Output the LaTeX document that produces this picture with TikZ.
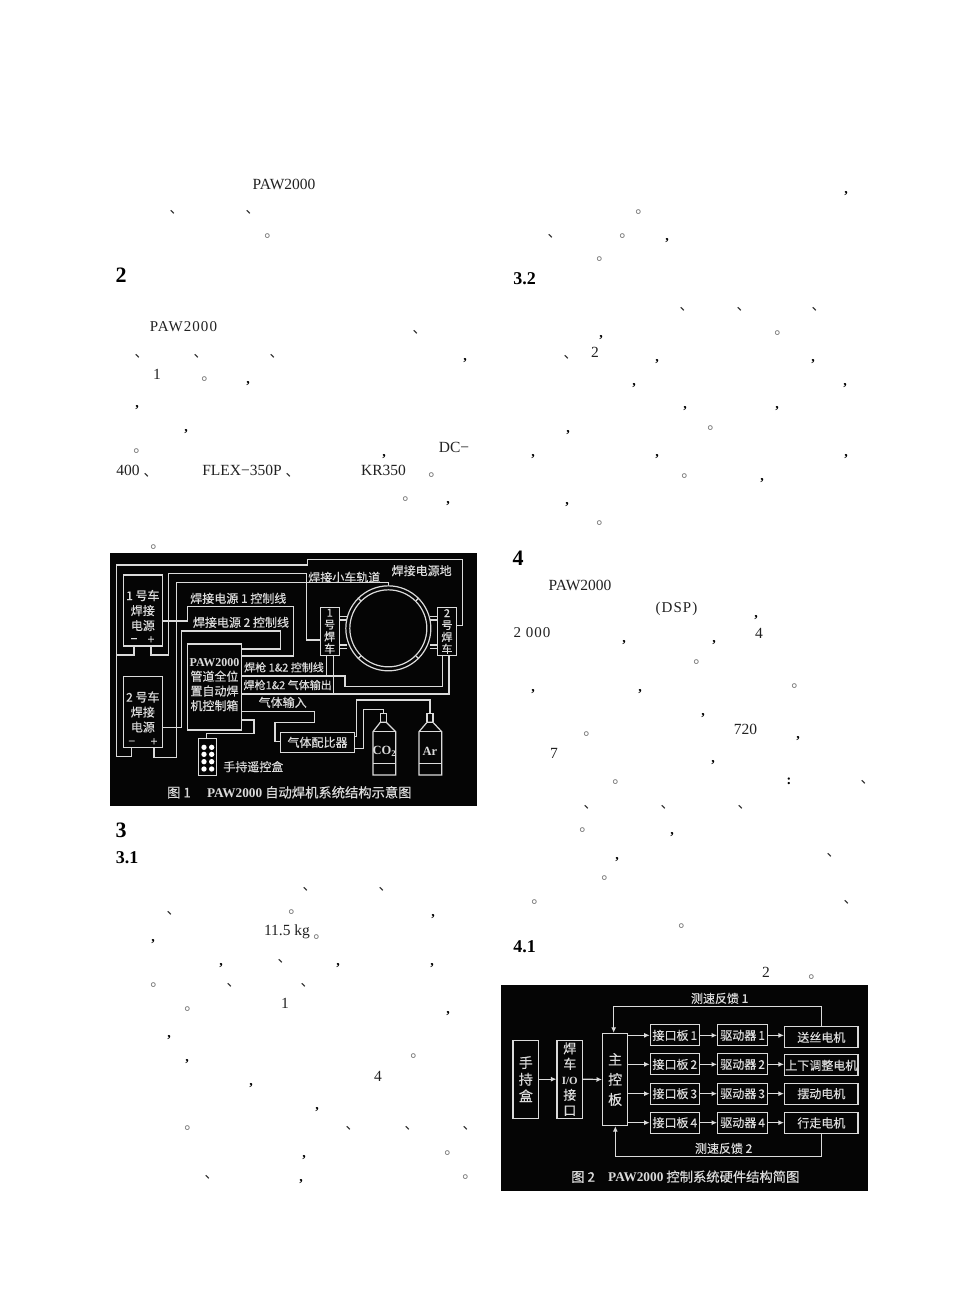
\documentclass[tikz,border=0pt]{standalone}
\usepackage{fontspec}
\setmainfont{Liberation Serif}
\newfontfamily\cjk{Noto Sans CJK SC}
\newfontfamily\cjkfig[FakeBold=0.4]{Noto Sans CJK SC}
\usetikzlibrary{arrows.meta}
\definecolor{inkwhite}{gray}{0.86}
\definecolor{plate}{gray}{0.02}
\definecolor{print}{gray}{0.13}
\tikzset{
  body/.style={inner sep=0pt,text=print,font=\fontsize{15.5}{17}\selectfont},
  spaced/.style={body,font=\fontsize{15}{17}\selectfont\addfontfeatures{LetterSpace=7}},
  sect/.style={inner sep=0pt,text=black,font=\fontsize{22}{24}\selectfont\bfseries},
  subsect/.style={inner sep=0pt,text=black,font=\fontsize{18}{20}\selectfont\bfseries},
  dun/.style={inner sep=0pt,xshift=4.6pt,text=print,font=\cjk\fontsize{14}{14}\selectfont},
  stopp/.style={inner sep=0pt,xshift=5pt,text=black!55,font=\cjk\fontsize{15.5}{15.5}\selectfont},
  comma/.style={inner sep=0pt,yshift=-4.5pt,text=black,font=\fontsize{14}{14}\selectfont\bfseries},
  wire/.style={draw=inkwhite,line width=1.2pt},
  flow/.style={draw=inkwhite,line width=1.2pt,-{Latex[length=5.5pt,width=5pt]}},
  unit/.style={draw=inkwhite,line width=1.3pt,inner sep=0pt,align=center,text=inkwhite,font=\cjkfig\fontsize{12}{15}\selectfont},
  tag/.style={inner sep=0pt,text=inkwhite,font=\cjkfig\fontsize{12}{14}\selectfont},
  caption/.style={inner sep=0pt,text=inkwhite,font=\cjkfig\fontsize{13.3}{15}\selectfont},
}
\begin{document}
\begin{tikzpicture}[x=1pt,y=-1pt]
\useasboundingbox (0,0) rectangle (967,1290);

% text of the page
\node[body] (pawa) at (284,184) {PAW2000};
\node[spaced] (pawb) at (183.5,327) {PAW2000};
\node[body] (numa) at (157,374) {1};
\node[body] (dc) at (454,447) {DC−};
\node[body] (fourh) at (128,470) {400};
\node[body] (flex) at (242,470) {FLEX−350P};
\node[body] (kr) at (383.5,470) {KR350};
\node[body] (kg) at (287,932) {11.5 kg};
\node[body] (numb) at (285,1003) {1};
\node[body] (numc) at (378,1076) {4};
\node[body] (numd) at (595,352) {2};
\node[body] (pawc) at (580,585) {PAW2000};
\node[spaced] (dsp) at (676.5,609) {(DSP)};
\node[spaced] (twok) at (532,633) {2 000};
\node[body] (nume) at (759,633) {4};
\node[body] (sevenh) at (745.5,729) {720};
\node[body] (numf) at (554,753) {7};
\node[body] (numg) at (766,972) {2};
\node[comma,yshift=4.5pt] (colon) at (789,781) {:};

\node[sect] (secb) at (121,275) {2};
\node[sect] (secc) at (121,830) {3};
\node[sect] (secd) at (518,558) {4};
\node[subsect] (subca) at (127,858) {3.1};
\node[subsect] (subcb) at (524.5,279) {3.2};
\node[subsect] (subda) at (524.5,947) {4.1};

\foreach \x/\y [count=\i] in {172/212,248/212,415/332,137/356,196/356,272/356,146/475,288/475,
    305/889,381/889,169/913,280/961,229/985,303/985,348/1128,407/1128,465/1128,207/1177,
    550/236,682/309,739/309,814/309,566/357,863/782,586/807,663/807,740/807,829/855,846/902}
  \node[dun] (dun\i) at (\x,\y) {、};
\foreach \x/\y [count=\i] in {267/236,204/379,136/451,431/475,405/499,153/547,
    291/912,316/937,153/985,187/1009,413/1056,187/1128,447/1153,465/1177,
    638/212,622/236,599/259,777/333,710/428,684/476,599/523,
    696/662,794/686,586/734,615/782,582/830,604/878,534/902,681/926,811/977}
  \node[stopp] (stop\i) at (\x,\y) {。};
\foreach \x/\y [count=\i] in {465/356,248/379,137/403,186/427,384/452,448/499,
    433/912,153/937,221/961,338/961,432/961,448/1009,169/1033,187/1057,251/1081,317/1105,304/1153,301/1177,
    846/189,667/236,601/333,657/357,813/357,634/381,845/381,685/404,777/404,568/428,533/452,657/452,846/452,762/476,567/500,
    756/613,624/638,714/638,533/687,640/687,703/711,798/734,713/758,672/830,617/855}
  \node[comma] (com\i) at (\x,\y) {,};

% first figure
\fill[plate] (110,553) rectangle (477,806);
\begin{scope}[shift={(105,550)},x=0.33333pt,y=-0.33333pt]
  \node[unit,minimum width=39pt,minimum height=71pt] (pwrone) at (113.5,181.5) {1 号车\\焊接\\电源};
  \node[unit,minimum width=39pt,minimum height=71pt] (pwrtwo) at (113.5,486) {2 号车\\焊接\\电源};
  \node[unit,minimum width=54pt,minimum height=86pt] (ctrl) at (328.5,411) {};
  \node[tag,align=center,font=\cjkfig\fontsize{12}{14.7}\selectfont] (ctrltext) at (328.5,404) {\rmfamily\bfseries PAW2000\\管道全位\\置自动焊\\机控制箱};
  \node[unit,minimum width=18pt,minimum height=37pt] (remote) at (308.5,622) {};
  \node[unit,minimum width=74pt,minimum height=20pt] (mixer) at (637.5,577) {气体配比器};
  \node[unit,minimum width=19pt,minimum height=48pt,font=\cjkfig\fontsize{11}{12}\selectfont] (cartone) at (674,243.5) {1\\号\\焊\\车};
  \node[unit,minimum width=19pt,minimum height=48pt,font=\cjkfig\fontsize{11}{12}\selectfont] (carttwo) at (1026,244.5) {2\\号\\焊\\车};
  \node[circle,draw=inkwhite,line width=1.2pt,minimum size=85pt,inner sep=0pt] (ringout) at (850,235) {};
  \node[circle,draw=inkwhite,line width=1.2pt,minimum size=77pt,inner sep=0pt] (ringin) at (850,235) {};
  \foreach \a in {45,135,225,315}
    \draw[wire] (ringin.\a) -- (ringout.\a);
  \foreach \y in {200,210,285,295}{
    \draw[wire] (cartone.east |- 0,\y) -- (725,\y);
    \draw[wire] (carttwo.west |- 0,\y) -- (975,\y);
  }

  \node[tag] (minusa) at (87,272) {−};
  \node[tag] (plusa) at (138,270) {+};
  \node[tag] (minusb) at (80,579) {−};
  \node[tag] (plusb) at (147,576) {+};
  \coordinate (oneminus) at (87,288);
  \coordinate (oneplus) at (138,288);
  \coordinate (twominus) at (80,592);
  \coordinate (twoplus) at (147,592);

  \foreach \y in {592,613,635,657}{
    \fill[white] (297,\y) circle [radius=8];
    \fill[white] (320,\y) circle [radius=8];
  }

  % wires
  \draw[wire] (carttwo.east |- 0,227) -- (1073,227) -- (1073,28) -- (608,28) -- (608,45) -- (35,45) -- (35,620) -- (80,620) -- (twominus);
  \draw[wire] (35,315) -| (oneminus);
  \draw[wire] (oneplus) |- (190,315) -- (190,70) -- (605,70) -- (605,270) -- (cartone.west |- 0,270);
  \draw[wire] (twoplus) |- (215,622) -- (215,98) -| (ringout.north);
  \draw[wire] (pwrone.east |- 0,213) -- (247,213) -- (247,170) -- (565,170) -- (565,318) -- (ctrl.east |- 0,318);
  \draw[wire] (pwrtwo.east |- 0,533) -- (230,533) -- (230,243) -- (527,243) -- (527,297) -- (ctrl.east |- 0,297);
  \draw[wire] (ctrl.east |- 0,378) -- (720,378) -- (720,410) -- (1012,410) -- (carttwo.south -| 1012,0);
  \draw[wire] (cartone.south -| 665,0) -- (665,378);
  \draw[wire] (cartone.south -| 685,0) -- (685,432);
  \draw[wire] (ctrl.east |- 0,432) -- (1032,432) -- (carttwo.south -| 1032,0);
  \draw[wire] (ctrl.east |- 0,484) -- (628,484) -- (628,518) -- (510,518) -- (510,575) -- (mixer.west |- 0,575);
  \draw[wire] (ctrl.east |- 0,510) -- (447,510) -- (447,550) -- (305,550) -- (remote.north -| 305,0);
  \draw[wire] (mixer.east |- 0,595) -- (775,595) -- (775,478) -- (835,478) -- (835,490);
  \draw[wire] (mixer.east |- 0,560) -- (755,560) -- (755,450) -- (975,450) -- (975,490);

  % bottles
  \draw[wire] (826,517) -- (826,490) -- (844,490) -- (844,517);
  \draw[wire] (826,517) -- (804,545) -- (804,675) -- (872,675) -- (872,545) -- (844,517) -- cycle;
  \draw[wire] (804,545) -- (872,545) (804,640) -- (872,640);
  \draw[wire] (966,517) -- (966,490) -- (984,490) -- (984,517);
  \draw[wire] (966,517) -- (942,545) -- (942,675) -- (1010,675) -- (1010,545) -- (984,517) -- cycle;
  \draw[wire] (942,545) -- (1010,545) (942,640) -- (1010,640);
  \node[tag,font=\fontsize{12.5}{14}\selectfont\bfseries] (cotwo) at (838,605) {CO\textsubscript{2}};
  \node[tag,font=\fontsize{12.5}{14}\selectfont\bfseries] (argon) at (975,605) {Ar};

  % labels
  \node[tag] (lbground) at (950,62) {焊接电源地};
  \node[tag] (lbtrack) at (718,82) {焊接小车轨道};
  \node[tag] (lbctrla) at (400,145) {焊接电源 1 控制线};
  \node[tag] (lbctrlb) at (408,217) {焊接电源 2 控制线};
  \node[tag,font=\cjkfig\fontsize{11}{13}\selectfont] (lbgun) at (537,352) {焊枪 1\&2 控制线};
  \node[tag,font=\cjkfig\fontsize{11}{13}\selectfont] (lbgas) at (548,405) {焊枪1\&2 气体输出};
  \node[tag] (lbgasin) at (533,457) {气体输入};
  \node[tag] (lbremote) at (445,650) {手持遥控盒};
  \node[caption] (capone) at (553,727) {图 1\quad\ {\rmfamily\bfseries PAW2000} 自动焊机系统结构示意图};
\end{scope}

% second figure
\fill[plate] (501,985) rectangle (868,1191);
\begin{scope}[shift={(497,980)},x=0.33333pt,y=-0.33333pt]
  \node[unit,minimum width=25.5pt,minimum height=78pt,font=\cjkfig\fontsize{14}{16.7}\selectfont] (hand) at (86.5,297.5) {手\\持\\盒};
  \node[unit,minimum width=25.5pt,minimum height=78pt,font=\cjkfig\fontsize{13}{15.5}\selectfont] (cartio) at (218.5,297.5) {焊\\车\\{\rmfamily\bfseries\fontsize{11}{15.5}\selectfont I/O}\\接\\口};
  \node[unit,minimum width=25pt,minimum height=92pt,font=\cjkfig\fontsize{14}{20}\selectfont] (mainb) at (354.5,298.5) {主\\控\\板};
  \foreach \i/\y/\ym/\mot in {1/166/172/送丝电机,2/253/256/上下调整电机,3/341/341/摆动电机,4/428/429/行走电机}{
    \node[unit,minimum width=49pt,minimum height=21pt] (board\i) at (533.5,\y) {接口板\,\i};
    \node[unit,minimum width=50pt,minimum height=21pt] (drive\i) at (737,\y) {驱动器\,\i};
    \node[unit,minimum width=73.5pt,minimum height=21pt] (motor\i) at (973,\ym) {\mot};
    \draw[flow] (mainb.east |- board\i.west) -- (board\i.west);
    \draw[flow] (board\i.east) -- (drive\i.west);
    \draw[flow] (drive\i.east) -- (drive\i.east -| motor\i.west);
  }
  \draw[flow] (hand.east) -- (cartio.west);
  \draw[flow] (cartio.east) -- (mainb.west);
  \draw[flow] (motor1.north) -- (973,80) -- (350,80) -- (mainb.north -| 350,0);
  \draw[flow] (motor4.south) -- (973,530) -- (355,530) -- (mainb.south -| 355,0);
  \node[tag] (fbone) at (668,55) {测速反馈 1};
  \node[tag] (fbtwo) at (680,505) {测速反馈 2};
  \node[caption] (captwo) at (565,590) {图 2\quad{\rmfamily\bfseries PAW2000} 控制系统硬件结构简图};
\end{scope}
\end{tikzpicture}
\end{document}
